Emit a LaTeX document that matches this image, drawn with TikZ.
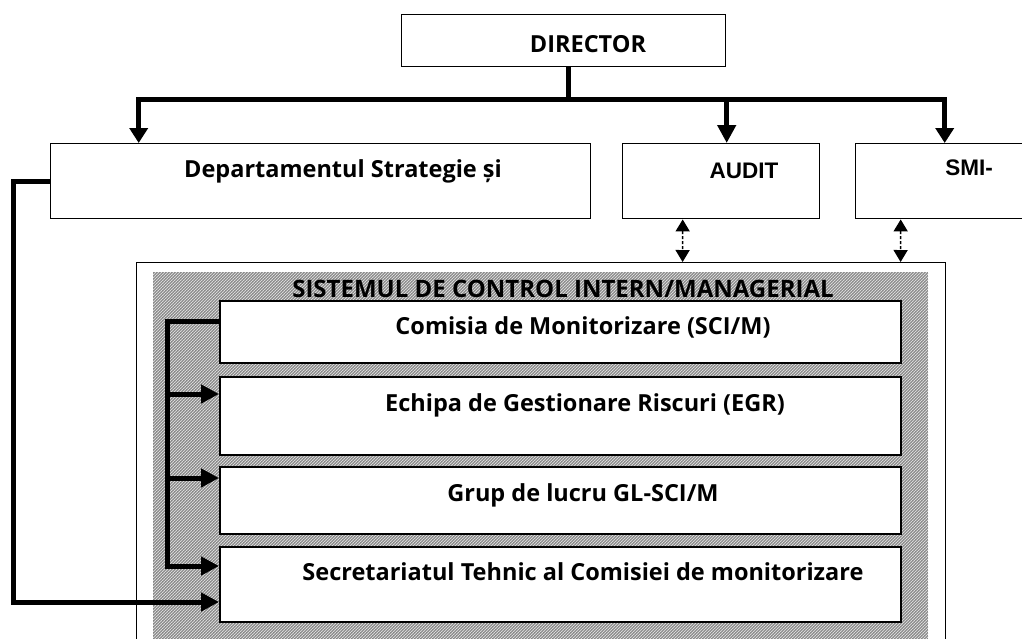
\documentclass[tikz,border=0pt]{standalone}
\usepackage{fontspec}
\setmainfont{Open Sans}
\newfontfamily\arialf{Liberation Sans}
\usetikzlibrary{arrows.meta,patterns}
\begin{document}
\begin{tikzpicture}[x=1pt,y=-1pt,
  box/.style={draw,line width=1.4pt,fill=white,inner sep=0pt,anchor=north west},
  ibox/.style={box,line width=2pt},
  lbl/.style={font=\fontsize{23.5}{28}\selectfont\bfseries,anchor=base,inner sep=0pt},
  albl/.style={font=\fontsize{22.5}{27}\selectfont\arialf\bfseries,anchor=base,inner sep=0pt},
  heavy/.style={line width=5pt,line join=miter},
  tip/.style={-{Triangle[length=18pt,width=18pt]}},
  tipboth/.style={{Triangle[length=15pt,width=18pt]}-{Triangle[length=15pt,width=18pt]}},
  dbl/.style={line width=1.5pt,dash pattern=on 3pt off 2pt,{Triangle[length=12pt,width=14pt]}-{Triangle[length=12pt,width=14pt]}}]
\useasboundingbox (0,0) rectangle (1022,638);
\clip (0,0) rectangle (1022,638);
\fill[white] (0,0) rectangle (1022,638);

% top boxes
\node[box,minimum width=324pt,minimum height=52pt] (director) at (401,14) {};
\node[box,minimum width=540pt,minimum height=75pt] (dept) at (50,143) {};
\node[box,minimum width=197pt,minimum height=75pt] (audit) at (622,143) {};
\node[box,minimum width=175pt,minimum height=75pt] (smi) at (855,143) {};

\node[lbl] (directorT) at (588,52) {DIRECTOR};
\node[lbl] (deptT) at (343,177) {Departamentul Strategie și};
\node[albl] (auditT) at (744,178) {AUDIT};
\node[albl] (smiT) at (969,175) {SMI-};

% outer frame and texture
\node[box,line width=1.2pt,minimum width=809pt,minimum height=400pt] (outer) at (136,262) {};
\fill[black!42] (153,272) rectangle (928,660);
\fill[pattern=crosshatch dots,pattern color=black!80] (153,272) rectangle (928,660);
\fill[pattern=north east lines,pattern color=white!85!gray] (153,272) rectangle (928,660);

\node[lbl,font=\fontsize{24}{28}\selectfont\bfseries] (titleT) at (563,297) {SISTEMUL DE CONTROL INTERN/MANAGERIAL};

% inner boxes
\node[ibox,minimum width=681pt,minimum height=62pt] (box1) at (219,300) {};
\node[ibox,minimum width=681pt,minimum height=78pt] (box2) at (219,376) {};
\node[ibox,minimum width=681pt,minimum height=67pt] (box3) at (219,466) {};
\node[ibox,minimum width=681pt,minimum height=75pt] (box4) at (219,546) {};

\node[lbl] (box1T) at (583,334) {Comisia de Monitorizare (SCI/M)};
\node[lbl] (box2T) at (585,411) {Echipa de Gestionare Riscuri (EGR)};
\node[lbl] (box3T) at (583,501) {Grup de lucru GL-SCI/M};
\node[lbl] (box4T) at (583,580) {Secretariatul Tehnic al Comisiei de monitorizare};

% connectors from director
\draw[heavy] ([xshift=5pt]director.south) -- ++(0,33);
\draw[heavy,tipboth] ([xshift=-182pt]dept.north) -- ++(0,-44) -| ([xshift=1.5pt]smi.north);
\draw[heavy,tip] ([xshift=5.5pt]audit.north) ++(0,-44) -- ([xshift=5.5pt]audit.north);

% dashed double arrows
\draw[dbl] ([xshift=-38.5pt]audit.south) -- ([xshift=141.5pt]outer.north);
\draw[dbl] ([xshift=-42.5pt]smi.south) -- ([xshift=359.5pt]outer.north);

% department to secretariat
\draw[heavy,tip] (dept.west) -- ++(-37,0) |- ([yshift=-17.5pt]box4.west);

% bracket inside
\draw[heavy,tip] ([yshift=11pt]box1.west) -- ++(-52,0) |- ([yshift=18.5pt]box4.west);
\draw[heavy,tip] ([yshift=22pt]box2.west) ++(-52,0) -- ([yshift=22pt]box2.west);
\draw[heavy,tip] ([yshift=22.5pt]box3.west) ++(-52,0) -- ([yshift=22.5pt]box3.west);
\end{tikzpicture}
\end{document}
